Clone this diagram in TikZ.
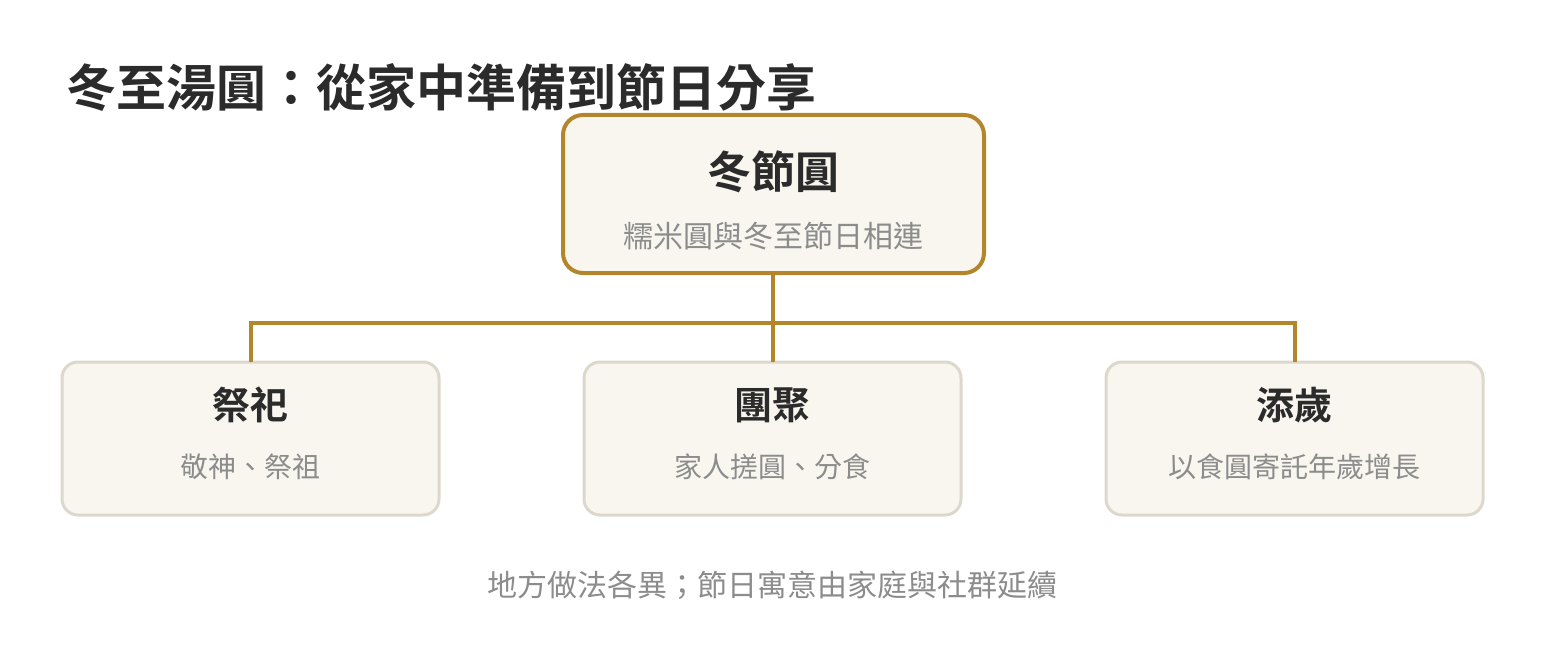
\documentclass[tikz,border=0pt]{standalone}
\usepackage{fontspec}
\setmainfont{Noto Sans CJK TC}
\newfontfamily\cjk{Noto Sans CJK TC}
\newfontfamily\cjkb{Noto Sans CJK TC Bold}
\definecolor{gold}{HTML}{B3862C}
\definecolor{boxfill}{HTML}{F9F6EF}
\definecolor{lightedge}{HTML}{DDD8CC}
\definecolor{darktext}{HTML}{2B2B2B}
\definecolor{greytext}{HTML}{8C8C8C}
\tikzset{
  mainbox/.style={draw=gold, line width=4pt, fill=boxfill, rounded corners=20pt},
  subbox/.style={draw=lightedge, line width=3pt, fill=boxfill, rounded corners=16pt},
  headtext/.style={font=\cjkb\fontsize{44}{52}\selectfont, text=darktext, inner sep=0pt},
  subhead/.style={font=\cjkb\fontsize{38}{46}\selectfont, text=darktext, inner sep=0pt},
  note/.style={font=\cjk\fontsize{30}{36}\selectfont, text=greytext, inner sep=0pt},
  smallnote/.style={font=\cjk\fontsize{28}{34}\selectfont, text=greytext, inner sep=0pt},
  link/.style={draw=gold, line width=4pt},
}
\begin{document}
\begin{tikzpicture}[x=1pt, y=-1pt]
\useasboundingbox (0,0) rectangle (1546,660);
\fill[white] (0,0) rectangle (1546,660);
% title
\node[anchor=west, font=\cjkb\fontsize{50}{58}\selectfont, text=darktext, inner sep=0pt] (title) at (66,88) {冬至湯圓：從家中準備到節日分享};
% top box
\path[mainbox] (563,115) rectangle (984,273);
\coordinate (topb) at (773,273);
\node[headtext] (toph) at (773,172) {冬節圓};
\node[note] (tops) at (773,236) {糯米圓與冬至節日相連};
% bottom boxes
\path[subbox] (62,362) rectangle (439,515);
\path[subbox] (584,362) rectangle (961,515);
\path[subbox] (1106,362) rectangle (1483,515);
\coordinate (b1) at (250.5,362);
\coordinate (b2) at (773,362);
\coordinate (b3) at (1294.5,362);
\node[subhead] (b1h) at (250.5,405) {祭祀};
\node[smallnote] (b1s) at (250.5,467) {敬神、祭祖};
\node[subhead] (b2h) at (772.5,405) {團聚};
\node[smallnote] (b2s) at (772.5,467) {家人搓圓、分食};
\node[subhead] (b3h) at (1294.5,405) {添歲};
\node[smallnote] (b3s) at (1294.5,467) {以食圓寄託年歲增長};
% connectors
\coordinate (bus) at (773,323);
\draw[link] (topb) -- (bus);
\draw[link] (bus) -- (b2);
\draw[link] (b1) |- (bus) -| (b3);
% footer
\node[note] (foot) at (772,585) {地方做法各異；節日寓意由家庭與社群延續};
\end{tikzpicture}
\end{document}
